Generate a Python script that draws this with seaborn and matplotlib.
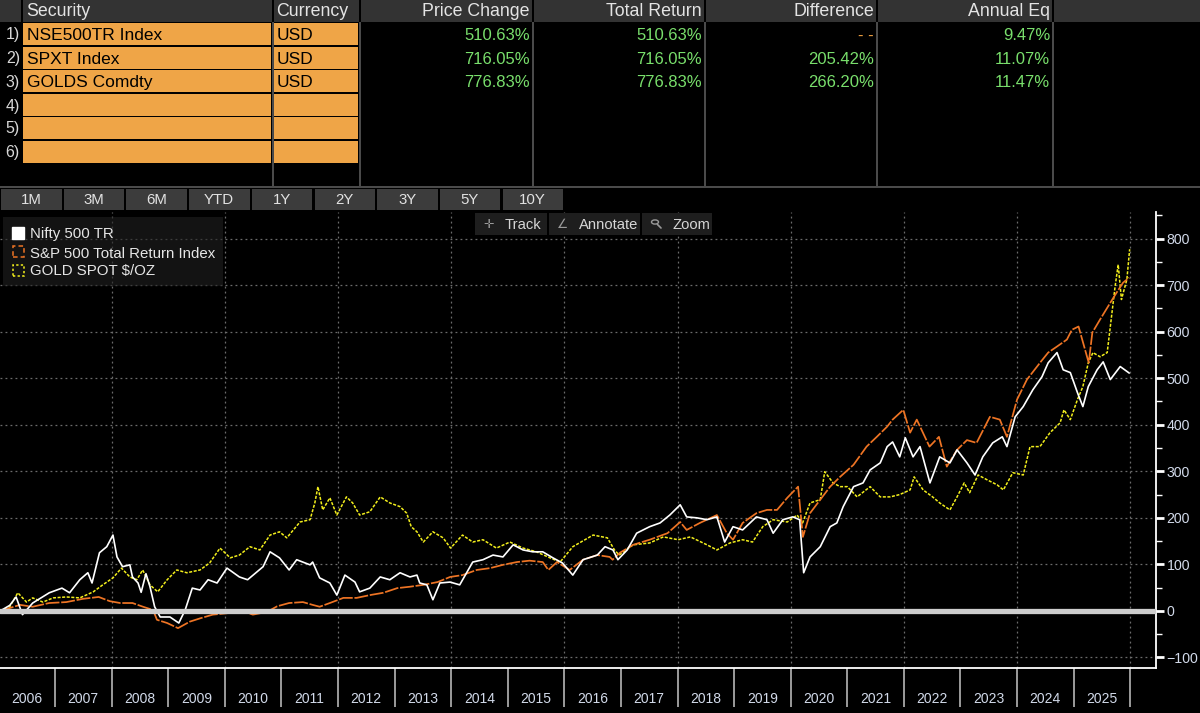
import pandas as pd
import seaborn as sns
import matplotlib.pyplot as plt
import matplotlib.dates as mdates
from matplotlib.patches import Rectangle
from matplotlib.lines import Line2D
from matplotlib.ticker import MultipleLocator, NullFormatter

# table at the top
securities = ["NSE500TR Index", "SPXT Index", "GOLDS Comdty"]
currency = ["USD", "USD", "USD"]
price_change = ["510.63%", "716.05%", "776.83%"]
total_return = ["510.63%", "716.05%", "776.83%"]
difference = ["--", "205.42%", "266.20%"]
annual_eq = ["9.47%", "11.07%", "11.47%"]
periods = ["1M", "3M", "6M", "YTD", "1Y", "2Y", "3Y", "5Y", "10Y"]
legend_names = ["Nifty 500 TR", "S&P 500 Total Return Index", "GOLD SPOT $/OZ"]

# % change since start
nifty_dates = [
    "2006-01-12", "2006-03-15", "2006-04-25", "2006-06-05", "2006-08-10", "2006-11-25",
    "2007-02-15", "2007-04-05", "2007-06-10", "2007-08-01", "2007-08-28", "2007-10-15", "2007-12-01",
    "2008-01-10", "2008-02-05", "2008-03-12", "2008-04-28", "2008-05-15", "2008-06-20", "2008-07-10",
    "2008-08-10", "2008-09-05", "2008-10-05", "2008-11-10",
    "2009-01-12", "2009-03-10", "2009-04-20", "2009-06-05", "2009-07-25", "2009-09-15", "2009-11-12",
    "2010-01-15", "2010-04-05", "2010-05-28", "2010-09-05", "2010-10-20", "2010-12-20",
    "2011-02-20", "2011-04-10", "2011-07-05", "2011-07-22", "2011-09-05", "2011-11-10", "2011-12-25",
    "2012-02-15", "2012-04-20", "2012-05-20", "2012-07-25", "2012-09-30", "2012-12-01",
    "2013-02-05", "2013-04-10", "2013-05-25", "2013-06-12", "2013-07-28", "2013-09-05", "2013-10-20", "2013-12-25",
    "2014-02-25", "2014-05-20", "2014-07-25", "2014-09-28", "2014-12-01",
    "2015-02-05", "2015-04-10", "2015-06-12", "2015-08-15", "2015-10-20", "2015-12-20",
    "2016-02-25", "2016-05-01", "2016-08-01", "2016-09-20", "2016-11-10", "2016-12-12",
    "2017-02-10", "2017-04-12", "2017-07-05", "2017-09-10", "2017-11-12",
    "2018-01-18", "2018-03-01", "2018-05-05", "2018-07-10", "2018-09-12", "2018-11-01", "2018-12-25",
    "2019-02-25", "2019-05-25", "2019-08-01", "2019-09-10", "2019-11-12",
    "2020-01-15", "2020-02-28", "2020-03-25", "2020-05-05", "2020-07-10", "2020-09-12", "2020-10-25", "2020-12-05",
    "2021-02-10", "2021-04-12", "2021-05-28", "2021-08-01", "2021-09-15", "2021-10-20", "2021-12-05",
    "2022-01-10", "2022-03-01", "2022-04-15", "2022-06-18", "2022-08-20", "2022-10-25", "2022-12-10",
    "2023-02-12", "2023-04-05", "2023-05-25", "2023-07-28", "2023-09-28", "2023-10-28", "2023-12-20",
    "2024-02-10", "2024-04-12", "2024-06-10", "2024-07-20", "2024-09-15", "2024-10-25", "2024-12-10",
    "2025-01-25", "2025-03-01", "2025-04-05", "2025-06-01", "2025-07-10", "2025-08-25", "2025-10-28", "2025-12-25",
]
nifty_vals = [
    0, 12, 30, -8, 17, 39,
    49, 39, 67, 82, 60, 125, 138,
    163, 116, 95, 99, 73, 60, 40, 80, 52, 9, -13,
    -13, -26, 2, 49, 45, 67, 60,
    92, 73, 67, 95, 127, 114,
    88, 110, 99, 105, 71, 60, 34,
    77, 62, 41, 49, 73, 67,
    82, 73, 77, 60, 56, 24, 60, 62,
    56, 105, 110, 120, 116,
    142, 131, 127, 127, 114, 103,
    77, 110, 120, 138, 131, 110,
    131, 167, 181, 189, 206,
    228, 202, 200, 196, 202, 148, 181,
    174, 202, 196, 167, 196,
    202, 196, 82, 116, 138, 181, 189, 224,
    267, 275, 303, 318, 353, 363, 331,
    372, 331, 353, 275, 331, 318, 346,
    318, 292, 331, 361, 374, 353, 417,
    439, 475, 503, 533, 555, 518, 512,
    469, 439, 482, 518, 535, 497, 525, 511,
]

spx_dates = [
    "2006-01-12", "2006-05-20", "2006-08-10", "2006-11-25",
    "2007-03-15", "2007-07-01", "2007-10-10", "2007-12-20",
    "2008-02-25", "2008-05-15", "2008-07-22", "2008-09-25", "2008-10-20", "2008-12-25",
    "2009-03-05", "2009-05-20", "2009-07-25", "2009-10-15",
    "2010-01-15", "2010-04-05", "2010-07-01", "2010-10-01", "2010-12-05",
    "2011-02-20", "2011-05-20", "2011-07-22", "2011-09-05", "2011-11-10",
    "2012-02-05", "2012-05-01", "2012-07-25", "2012-10-20",
    "2013-01-18", "2013-04-10", "2013-07-05", "2013-10-05", "2013-12-25",
    "2014-03-15", "2014-06-15", "2014-09-10", "2014-12-01",
    "2015-03-01", "2015-05-22", "2015-08-15", "2015-09-20", "2015-11-15",
    "2016-02-05", "2016-05-01", "2016-08-01", "2016-10-20", "2016-11-08", "2016-12-25",
    "2017-03-20", "2017-07-05", "2017-10-28",
    "2018-01-18", "2018-03-01", "2018-05-25", "2018-09-12", "2018-11-15", "2018-12-25",
    "2019-02-25", "2019-05-25", "2019-08-01", "2019-10-05", "2019-12-10",
    "2020-02-18", "2020-03-20", "2020-05-05", "2020-07-10", "2020-09-12", "2020-11-15",
    "2021-02-10", "2021-05-05", "2021-07-10", "2021-09-15", "2021-10-20", "2021-12-28",
    "2022-02-10", "2022-03-25", "2022-06-15", "2022-08-15", "2022-10-05", "2022-12-10",
    "2023-02-12", "2023-04-15", "2023-07-10", "2023-09-12", "2023-10-28",
    "2024-01-01", "2024-03-05", "2024-05-28", "2024-07-20", "2024-09-15", "2024-11-18", "2024-12-20",
    "2025-02-01", "2025-04-08", "2025-05-01", "2025-06-20", "2025-08-25", "2025-10-05", "2025-11-15", "2025-12-25",
]
spx_vals = [
    0, 13, 9, 17,
    19, 26, 30, 21,
    17, 17, 9, 2, -19, -26,
    -37, -23, -16, -8,
    -5, 2, -8, -2, 10,
    17, 19, 13, 9, 17,
    28, 28, 34, 39,
    49, 52, 56, 62, 73,
    77, 88, 92, 99,
    105, 108, 105, 88, 105,
    88, 110, 120, 116, 110, 125,
    142, 153, 167,
    191, 174, 189, 206, 167, 153,
    189, 210, 217, 217, 243,
    267, 159, 210, 239, 267, 288,
    314, 353, 374, 396, 411, 432,
    383, 411, 353, 374, 310, 346,
    367, 361, 417, 411, 374,
    454, 497, 533, 555, 568, 583, 604,
    611, 533, 598, 626, 662, 684, 705, 716,
]

gold_dates = [
    "2006-01-12", "2006-03-15", "2006-05-06", "2006-07-01", "2006-08-10", "2006-10-15", "2006-12-20",
    "2007-03-15", "2007-06-10", "2007-09-05", "2007-11-05",
    "2008-01-10", "2008-03-05", "2008-04-28", "2008-06-12", "2008-07-20", "2008-09-05", "2008-10-25", "2008-12-25",
    "2009-02-25", "2009-05-01", "2009-07-25", "2009-09-25", "2009-12-01",
    "2010-02-05", "2010-04-05", "2010-06-12", "2010-08-15", "2010-10-20", "2010-12-20",
    "2011-02-05", "2011-05-01", "2011-07-05", "2011-08-05", "2011-08-25", "2011-09-25", "2011-11-10", "2011-12-25",
    "2012-02-25", "2012-04-05", "2012-05-20", "2012-07-25", "2012-09-30", "2012-12-01",
    "2013-02-05", "2013-03-20", "2013-04-18", "2013-05-25", "2013-07-05", "2013-09-05", "2013-11-10", "2013-12-28",
    "2014-03-15", "2014-05-20", "2014-07-25", "2014-10-20",
    "2015-01-15", "2015-04-10", "2015-07-05", "2015-10-01", "2015-12-05",
    "2016-02-25", "2016-07-05", "2016-10-05", "2016-11-20", "2016-12-20",
    "2017-03-20", "2017-07-05", "2017-10-01",
    "2018-01-05", "2018-03-25", "2018-07-10", "2018-09-12", "2018-12-05",
    "2019-02-25", "2019-04-30", "2019-07-05", "2019-09-10", "2019-12-10",
    "2020-02-12", "2020-03-18", "2020-05-05", "2020-07-10", "2020-08-08", "2020-10-01", "2020-11-15",
    "2021-01-01", "2021-03-05", "2021-05-28", "2021-08-01", "2021-10-05", "2021-12-05",
    "2022-02-10", "2022-03-08", "2022-05-05", "2022-07-05", "2022-08-20", "2022-10-25", "2022-12-10",
    "2023-01-25", "2023-03-01", "2023-04-25", "2023-06-20", "2023-08-25", "2023-10-05", "2023-12-05",
    "2024-02-10", "2024-03-25", "2024-05-28", "2024-08-01", "2024-10-05", "2024-10-30", "2024-12-10",
    "2025-01-25", "2025-03-01", "2025-04-05", "2025-05-05", "2025-06-20", "2025-08-05", "2025-09-05",
    "2025-09-25", "2025-10-15", "2025-11-05", "2025-12-10", "2025-12-28",
]
gold_vals = [
    0, 9, 39, 19, 28, 19, 28,
    30, 28, 41, 56,
    71, 92, 73, 67, 88, 56, 41, 67,
    88, 82, 88, 103, 135,
    114, 120, 138, 131, 163, 170,
    157, 191, 196, 232, 267, 217, 243, 206,
    245, 232, 206, 213, 245, 232,
    224, 210, 181, 170, 148, 170, 157, 135,
    163, 148, 153, 135,
    148, 135, 127, 114, 105,
    138, 163, 157, 131, 120,
    142, 146, 159,
    153, 159, 142, 131, 146,
    153, 148, 181, 196, 191,
    206, 189, 232, 239, 299, 275, 267,
    267, 245, 267, 245, 245, 250,
    260, 288, 260, 245, 232, 217, 245,
    275, 254, 292, 282, 271, 260, 297,
    292, 353, 353, 383, 404, 432, 411,
    454, 482, 533, 555, 546, 555, 641,
    697, 744, 669, 712, 777,
]

sns.set_style("dark", {"axes.facecolor": "black", "figure.facecolor": "black"})
plt.rcParams["font.family"] = ["Liberation Sans", "DejaVu Sans"]

W, H = 1200, 713
fig = plt.figure(figsize=(12, 7.13), dpi=100)


def box(x0, y0, x1, y1, color, **kw):
    fig.add_artist(Rectangle((x0 / W, 1 - y1 / H), (x1 - x0) / W, (y1 - y0) / H,
                             transform=fig.transFigure, facecolor=color, edgecolor="none", **kw))


def label(x, y, s, size, color, ha="left", **kw):
    fig.text(x / W, 1 - y / H, s, fontsize=size, color=color, ha=ha, va="center", **kw)


# --- chart ---
ax = fig.add_axes([0, 45 / H, 1156 / W, 456 / H])
ax.set_facecolor("black")

sns.lineplot(x=pd.to_datetime(gold_dates), y=gold_vals, ax=ax, estimator=None,
             color="#F2EE1C", lw=1.1, linestyle=(0, (2, 1)), zorder=3)
sns.lineplot(x=pd.to_datetime(spx_dates), y=spx_vals, ax=ax, estimator=None,
             color="#EE7424", lw=1.25, linestyle=(0, (8, 1)), zorder=4)
sns.lineplot(x=pd.to_datetime(nifty_dates), y=nifty_vals, ax=ax, estimator=None,
             color="white", lw=1.2, zorder=5)

grid_kw = dict(color="#6c6c6c", lw=0.9, ls=(0, (1.5, 2.5)), zorder=1)
for yv in range(-100, 801, 100):
    ax.axhline(yv, **grid_kw)
for yr in range(2008, 2027, 2):
    ax.axvline(pd.Timestamp(f"{yr}-01-01"), **grid_kw)
ax.axhline(0, color="#CDCDCD", lw=3.8, zorder=6)

ax.set_xlim(pd.Timestamp("2006-01-11"), pd.Timestamp("2026-06-16"))
ax.set_ylim(-122.6, 857)
ax.set_xlabel("")
ax.set_ylabel("")

ax.xaxis.set_major_locator(mdates.YearLocator())
ax.xaxis.set_major_formatter(NullFormatter())
ax.xaxis.set_minor_locator(mdates.MonthLocator(bymonth=7, bymonthday=2))
ax.xaxis.set_minor_formatter(mdates.DateFormatter("%Y"))
ax.tick_params(axis="x", which="major", bottom=True, length=28, width=1.3, color="#a8a8a8", direction="out")
ax.tick_params(axis="x", which="minor", bottom=True, length=0, pad=17, labelsize=10, labelcolor="#D2DAEA")

ax.yaxis.tick_right()
ax.yaxis.set_major_locator(MultipleLocator(100))
ax.yaxis.set_minor_locator(MultipleLocator(50))
ax.tick_params(axis="y", which="major", right=True, length=6, width=2, color="white",
               labelsize=10.2, labelcolor="#D2DAEA", pad=1.5)
ax.tick_params(axis="y", which="minor", right=True, length=4, width=1, color="white")
for side in ["top", "left"]:
    ax.spines[side].set_visible(False)
for side in ["right", "bottom"]:
    ax.spines[side].set_visible(True)
    ax.spines[side].set_color("white")
    ax.spines[side].set_linewidth(1.3)
ax.grid(False)

# --- legend box ---
box(3, 217, 223, 286, "#202020", alpha=0.6, zorder=2)
leg_y = [233, 252, 270]
fig.add_artist(Rectangle((12 / W, 1 - (leg_y[0] + 6) / H), 12 / W, 12 / H, transform=fig.transFigure,
                         facecolor="white", edgecolor="white", zorder=3))
fig.add_artist(Rectangle((12.5 / W, 1 - (leg_y[1] + 5.5) / H), 11 / W, 11 / H, transform=fig.transFigure,
                         facecolor="none", edgecolor="#EE7424", lw=1.1, ls=(0, (3, 2)), zorder=3))
fig.add_artist(Rectangle((12.5 / W, 1 - (leg_y[2] + 5.5) / H), 11 / W, 11 / H, transform=fig.transFigure,
                         facecolor="none", edgecolor="#F2EE1C", lw=1.1, ls=(0, (1.5, 1.5)), zorder=3))
for yy, nm in zip(leg_y, legend_names):
    label(30, yy + 1.5, nm, 10.8, "#E6E6E6", zorder=3)

# --- Track / Annotate / Zoom ---
tools = [(475, 547, "Track"), (549, 640, "Annotate"), (642, 712, "Zoom")]
for x0, x1, name in tools:
    box(x0, 213, x1, 235, "#1E1E1E", zorder=2)
    label(x0 + 30, 225, name, 10.6, "#D6D6D6", zorder=3)
label(489, 224, "✛", 9, "#9A9A9A", ha="center", family="DejaVu Sans", zorder=3)
label(563, 224, "∠", 9, "#9A9A9A", ha="center", family="DejaVu Sans", zorder=3)
fig.add_artist(plt.Circle((655 / W, 1 - 222 / H), 3.5 / W, transform=fig.transFigure,
                          facecolor="none", edgecolor="#9A9A9A", lw=1, zorder=3))
fig.add_artist(Line2D([657.5 / W, 661 / W], [1 - 224.5 / H, 1 - 228 / H], transform=fig.transFigure,
                      color="#9A9A9A", lw=1.2, zorder=3))

# --- period buttons ---
for i, p in enumerate(periods):
    x0 = 1 + i * 62.7
    box(x0, 189, x0 + 60.5, 210, "#3C3C3C")
    label(x0 + 30, 200.5, p, 10.8, "#E2E2E2", ha="center")

# --- table ---
box(0, 0, W, 22, "#333333")
for xs in [21, 272, 359, 532, 704, 876, 1052]:
    box(xs, 0, xs + 2, 22, "black")
for xs in [272, 359, 532, 704, 876, 1052]:
    box(xs, 22, xs + 2, 187, "#4A4A4A")
box(0, 186, W, 188, "#4A4A4A")
label(26, 12, "Security", 12.8, "#E4E4E4")
label(276, 12, "Currency", 12.8, "#E4E4E4")
for xr, txt in [(530, "Price Change"), (702, "Total Return"), (874, "Difference"), (1050, "Annual Eq")]:
    label(xr, 12, txt, 12.8, "#E4E4E4", ha="right")

row_top = [23, 47, 70, 94, 117, 141]
for i, yt in enumerate(row_top):
    box(23, yt, 271, yt + 22, "#EFA547")
    box(274, yt, 358, yt + 22, "#EFA547")
    label(20, yt + 12, f"{i + 1})", 11.5, "#D8D8D8", ha="right")

for i in range(len(securities)):
    yc = row_top[i] + 12.5
    label(27, yc, securities[i], 12.5, "black")
    label(277, yc, currency[i], 12.5, "black")
    label(530, yc, price_change[i], 12, "#79DF6C", ha="right")
    label(702, yc, total_return[i], 12, "#79DF6C", ha="right")
    if difference[i] == "--":
        label(874, yc, " ".join(difference[i]), 12, "#F0A040", ha="right")
    else:
        label(874, yc, difference[i], 12, "#79DF6C", ha="right")
    label(1050, yc, annual_eq[i], 12, "#79DF6C", ha="right")

fig.savefig("out.png", dpi=100, facecolor="black")
